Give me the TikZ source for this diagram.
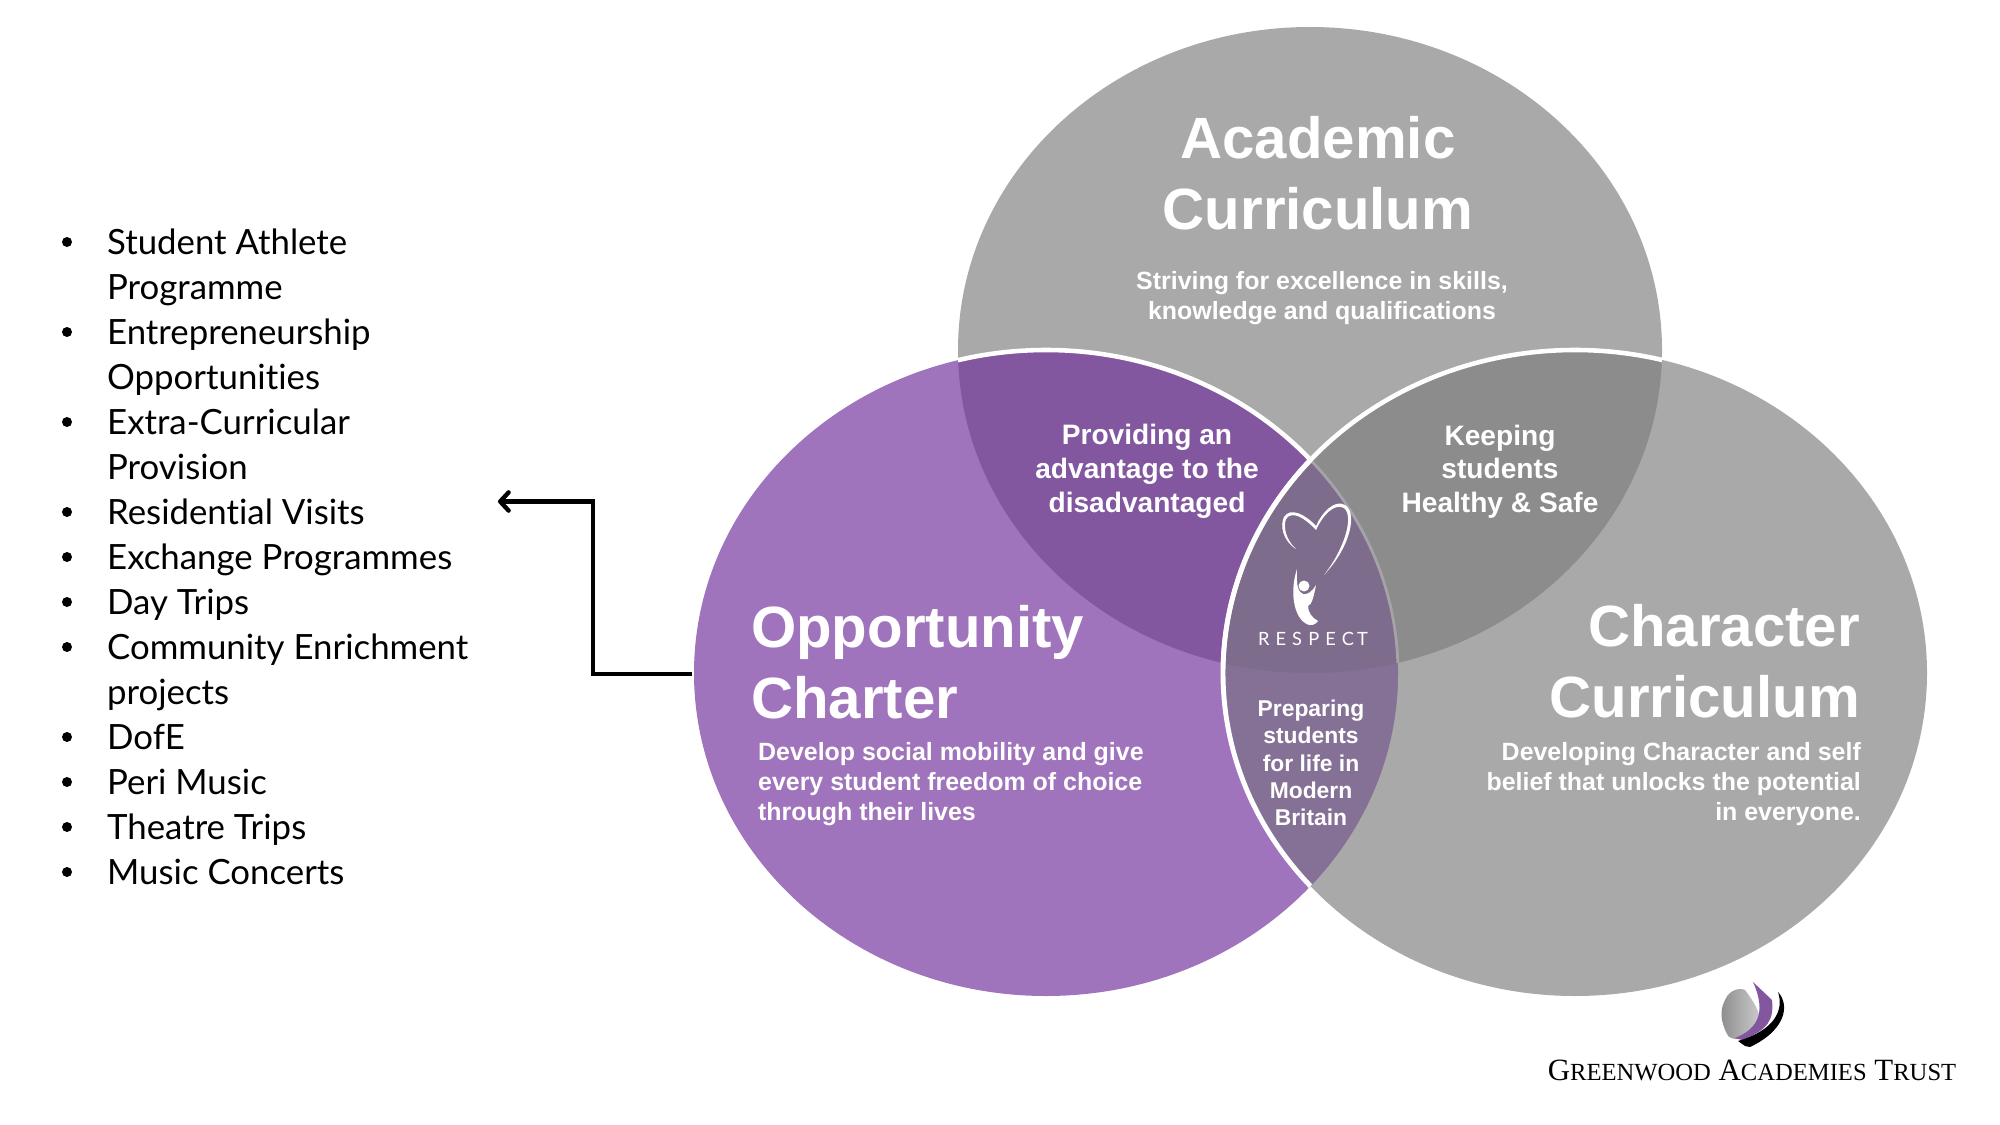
\documentclass[tikz,border=0pt]{standalone}
\usepackage{fontspec}
\usetikzlibrary{arrows.meta}
\setmainfont{Liberation Sans}
\newfontfamily\listfont[Ligatures=NoCommon]{Lato}
\newfontfamily\trustfont{Liberation Serif}
\definecolor{gbase}{HTML}{A9A9A9}
\definecolor{pbase}{HTML}{A074BC}
\definecolor{ptop}{HTML}{8257A0}
\definecolor{gtop}{HTML}{8C8C8C}
\definecolor{lowlens}{HTML}{857096}
\definecolor{midlens}{HTML}{7D6C8C}
\definecolor{edgeg}{HTML}{A5A3A8}
\tikzset{
  px/.style={x=0.05cm,y=-0.05cm},
  title/.style={text=white,font=\bfseries\fontsize{82.8}{100.5}\selectfont,align=center,inner sep=0pt},
  sub/.style={text=white,font=\bfseries\fontsize{35.5}{42.5}\selectfont,inner sep=0pt},
  lens/.style={text=white,font=\bfseries\fontsize{40}{48}\selectfont,align=center,inner sep=0pt},
  lenssmall/.style={text=white,font=\bfseries\fontsize{32.5}{39}\selectfont,align=center,inner sep=0pt},
  bulletnode/.style={anchor=base west,inner sep=0pt,font=\listfont\fontsize{49.5}{55}\selectfont},
  conn/.style={line width=6.2pt,black,line cap=butt,line join=miter}
}
\newcommand{\EL}{(1046,673) ellipse [x radius=352,y radius=323]}
\newcommand{\ER}{(1575,673) ellipse [x radius=352,y radius=323]}
\newcommand{\ET}{(1310,350) ellipse [x radius=352,y radius=323]}
\begin{document}
\begin{tikzpicture}[px]
\useasboundingbox (0,0) rectangle (2000,1125);
\fill[white] (0,0) rectangle (2000,1125);
% base circles
\fill[gbase] \ET;
\fill[gbase] \ER;
\fill[pbase] \EL;
\begin{scope}\clip \ET; \fill[gtop] \ER; \fill[ptop] \EL; \end{scope}
\begin{scope}\clip \EL; \fill[lowlens] \ER; \clip \ER; \fill[midlens] \ET; \end{scope}
% outlines
\begin{scope}\clip \ER; \clip \ET; \draw[edgeg,line width=4pt] \EL; \end{scope}
\begin{scope}\clip \ET; \clip (0,0) rectangle (1311,700); \draw[white,line width=6.5pt] \EL; \end{scope}
\begin{scope}\clip \EL; \draw[white,line width=7pt] \ER; \end{scope}
\begin{scope}\clip \ET; \draw[white,line width=6.5pt] \ER; \end{scope}
% titles
\node[title] (acad) at (1318,173) {Academic\\Curriculum};
\node[sub,align=center] (acadsub) at (1322,298) {Striving for excellence in skills,\\knowledge and qualifications};
\node[title,align=left,anchor=west] (opp) at (751,662) {Opportunity\\Charter};
\node[sub,align=left,anchor=west] (oppsub) at (758,784) {Develop social mobility and give\\every student freedom of choice\\through their lives};
\node[title,align=right,anchor=east] (char) at (1860,661.5) {Character\\Curriculum};
\node[sub,align=right,anchor=east] (charsub) at (1861,784) {Developing Character and self\\belief that unlocks the potential\\in everyone.};
\node[lens] (adv) at (1147,471.5) {Providing an\\advantage to the\\disadvantaged};
\node[lens] (safe) at (1500,471.5) {Keeping\\students\\Healthy \& Safe};
\node[lenssmall] (prep) at (1311,763) {Preparing\\students\\for life in\\Modern\\Britain};
% respect logo
\node[text=white,inner sep=0pt,font=\fontsize{26}{30}\selectfont] (resp) at (1313,638.5) {\listfont R\,\,E\,\,S\,\,P\,\,E\,\,C\,T};
\fill[white] (1297,569) .. controls (1290,590) and (1293,615) .. (1305,623) .. controls (1311,627) and (1315,625) .. (1318,621)
  .. controls (1312,618) and (1308,612) .. (1308,606) .. controls (1312,605) and (1314,595) .. (1316,585)
  .. controls (1312,592) and (1307,595) .. (1303,594) .. controls (1298,592) and (1296,585) .. (1297,569) -- cycle;
\fill[white] (1304,586) circle [radius=5.5];
\fill[white] (1296,549) .. controls (1282,540) and (1280,525) .. (1284,517)
  .. controls (1290,507) and (1305,514) .. (1316,526)
  .. controls (1322,512) and (1335,499) .. (1345,505)
  .. controls (1357,512) and (1352,545) .. (1324,575)
  .. controls (1345,548) and (1354,516) .. (1344,508)
  .. controls (1334,503) and (1323,515) .. (1316,530)
  .. controls (1305,518) and (1292,510) .. (1286,519)
  .. controls (1283,527) and (1286,540) .. (1296,549) -- cycle;
% arrow
\coordinate (armstart) at (692,674);
\coordinate (armelbow) at (593,501.5);
\coordinate (armend) at (498,501.5);
\draw[conn,-{Straight Barb[length=12pt,width=26pt,round]}] (armstart) -| (armelbow) -- (armend);
% list
\foreach \y/\t [count=\i] in {
 254.5/Student Athlete, 299.5/Programme, 344.5/Entrepreneurship, 389.5/Opportunities, 434.5/Extra-Curricular, 479.5/Provision,
 524.5/Residential Visits, 569.5/Exchange Programmes, 614.5/Day Trips, 659.5/Community Enrichment, 704.5/projects, 749.5/DofE, 794.5/Peri Music, 839.5/Theatre Trips, 884.5/Music Concerts}
 {\node[bulletnode] (l\i) at (107,\y) {\t};}
\foreach \y in {242,332,422,512,557,602,647,737,782,827,872} {\fill[black] (67,\y) circle [radius=5];}
% trust logo
\shade[left color=black!45,right color=black!18] (1725,1000) .. controls (1730,988) and (1742,988) .. (1745,990) .. controls (1760,1010) and (1764,1022) .. (1756,1032) .. controls (1748,1040) and (1730,1042) .. (1727,1034) .. controls (1720,1020) and (1720,1010) .. (1725,1000) -- cycle;
\fill[ptop] (1753,982) -- (1772,1000) .. controls (1774,1020) and (1768,1030) .. (1742,1040) -- (1735,1038) .. controls (1755,1030) and (1768,1015) .. (1753,982) -- cycle;
\fill[black] (1778,992) .. controls (1790,1005) and (1786,1030) .. (1750,1047) -- (1745,1046) -- (1738,1041) .. controls (1775,1030) and (1784,1010) .. (1778,992) -- cycle;
\node[inner sep=0pt,text=black,font=\trustfont\fontsize{44}{48}\selectfont] (trust) at (1752,1070) {G{\fontsize{35}{48}\selectfont REENWOOD} A{\fontsize{35}{48}\selectfont CADEMIES} T{\fontsize{35}{48}\selectfont RUST}};
\end{tikzpicture}
\end{document}
